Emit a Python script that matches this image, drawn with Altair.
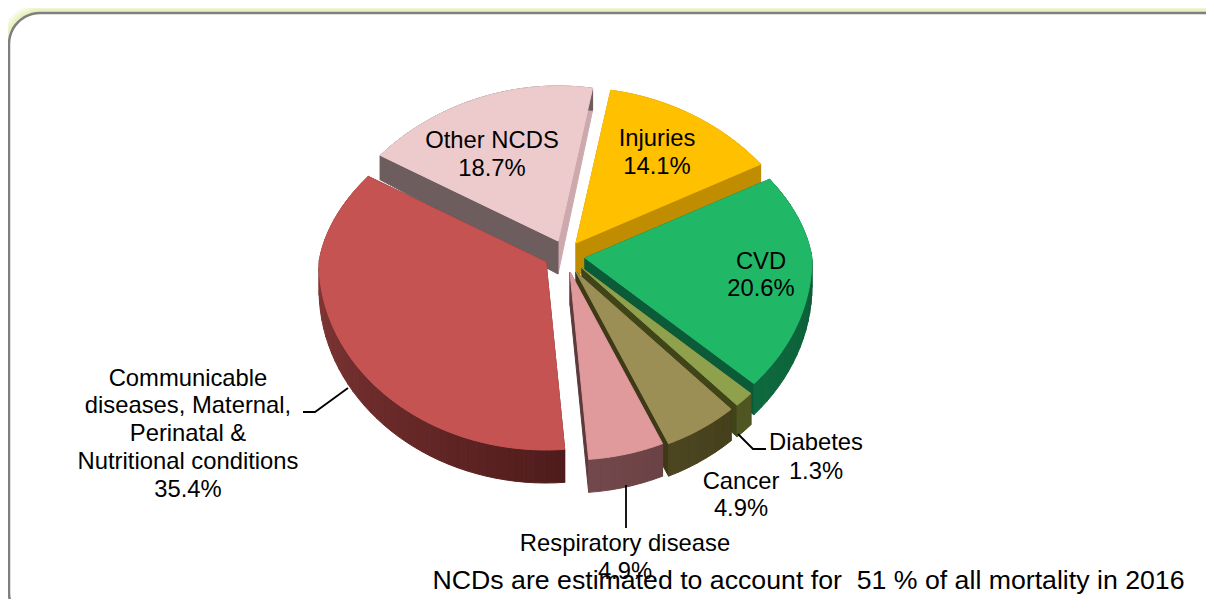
import math
import altair as alt

# ---- data ----
names = ["Injuries", "CVD", "Diabetes", "Cancer", "Respiratory disease",
         "Communicable diseases, Maternal, Perinatal & Nutritional conditions", "Other NCDS"]
shares = [14.1, 20.6, 1.3, 4.9, 4.9, 35.4, 18.7]
pct_labels = ["14.1%", "20.6%", "1.3%", "4.9%", "4.9%", "35.4%", "18.7%"]
footnote = "NCDs are estimated to account for \u00a051 % of all mortality in 2016"

# ---- styling / 3-D pie geometry ----
W, H = 1198, 591
OX, OY = 8, 8
START = 8.7
SKEW = [1.2, 0, -1.7, -1.4, 0, 1.7, 2.5, 1.5]       # foreshortening of the angles
APEX = [(576, 243), (585, 258), (582, 268), (576, 272), (570, 272), (546, 262), (558, 241)]
A, B_BACK, B_FRONT = 227, 155, 188
TOP = ["#ffc000", "#20b866", "#8fa14c", "#9c8f55", "#e09a9b", "#c55352", "#edcbcc"]
RIM_A = ["#c08c00", "#0b5233", "#4f5622", "#453f1c", "#6a4144", "#4f1c1b", "#6d5d5e"]
RIM_B = ["#c08c00", "#0e6a3e", "#4f5622", "#4c4620", "#74494d", "#934140", "#6d5d5e"]
FACE_START = ["#c08c00", "#0b5a38", "#3f4519", "#3e3a18", "#5c3a3c", "#5a2222", "#6d5d5e"]
FACE_END = ["#c08c00", "#0b5a38", "#3f4519", "#3e3a18", "#5c3a3c", "#5a2222", "#cda9ad"]
DRAW_ORDER = [6, 0, 5, 1, 2, 3, 4]
PROJ = dict(type="identity", scale=1, translate=[0, 0])


def pt(x, y):
    return [round(x - OX, 2), round(y - OY, 2)]


def rim(i, deg):
    t = math.radians(deg)
    c = math.cos(t)
    b = B_BACK if c > 0 else B_FRONT
    a = A * (1 - 0.11 * max(c, 0))
    return APEX[i][0] + a * math.sin(t), APEX[i][1] - b * c


def depth(deg):
    return 27.5 - 5.5 * math.cos(math.radians(deg))


def poly(points, color):
    ring = [pt(*p) for p in points]
    ring.append(ring[0])
    return {"type": "Feature", "properties": {"color": color},
            "geometry": {"type": "Polygon", "coordinates": [ring]}}


def mix(c1, c2, f):
    a = [int(c1[k:k + 2], 16) for k in (1, 3, 5)]
    b = [int(c2[k:k + 2], 16) for k in (1, 3, 5)]
    return "#%02x%02x%02x" % tuple(round(u + (v - u) * f) for u, v in zip(a, b))


cum = [START]
for s in shares:
    cum.append(cum[-1] + s * 3.6)
bounds = [c + k for c, k in zip(cum, SKEW)]

features = []
APEX_DEPTH = 33
for i in DRAW_ORDER:
    a0, a1 = bounds[i], bounds[i + 1]
    ax, ay = APEX[i]
    for deg, col in ((a1, FACE_END[i]), (a0, FACE_START[i])):
        x, y = rim(i, deg)
        features.append(poly([(ax, ay), (x, y), (x, y + depth(deg)), (ax, ay + APEX_DEPTH)], col))
    n = max(2, int((a1 - a0) / 2.5))
    for k in range(n):
        d0 = a0 + (a1 - a0) * k / n
        d1 = a0 + (a1 - a0) * (k + 1) / n
        x0, y0 = rim(i, d0)
        x1, y1 = rim(i, d1)
        col = mix(RIM_A[i], RIM_B[i], (k + .5) / n)
        features.append(poly([(x0, y0), (x1, y1), (x1, y1 + depth(d1)), (x0, y0 + depth(d0))], col))
    arc = [rim(i, a0 + (a1 - a0) * k / 60) for k in range(61)]
    features.append(poly([(ax, ay)] + arc, TOP[i]))


# rounded frame
def frame():
    x0, y0, x1, y1, r = 9, 13, 1245, 624, 31
    pts = []
    for cx, cy, st in ((x1 - r, y0 + r, -90), (x1 - r, y1 - r, 0), (x0 + r, y1 - r, 90), (x0 + r, y0 + r, 180)):
        for k in range(13):
            t = math.radians(st + 90 * k / 12)
            pts.append((cx + r * math.cos(t), cy + r * math.sin(t)))
    return pts


frame_feature = poly(frame(), "#ffffff")
glow = [
    alt.Chart(alt.Data(values=[frame_feature])).mark_geoshape(fill="#ffffff", stroke=c, strokeWidth=w, strokeJoin="round").project(**PROJ)
    for c, w in (("#f8fbea", 18), ("#f1f6d6", 13), ("#e9f1bd", 8))
]
border = alt.Chart(alt.Data(values=[frame_feature])).mark_geoshape(
    fill="#ffffff", stroke="#7f7f7f", strokeWidth=2.5).project(**PROJ)

slices = alt.Chart(alt.Data(values=features)).mark_geoshape(strokeWidth=1).encode(
    fill=alt.Fill("properties.color:N", scale=None, legend=None),
    stroke=alt.Stroke("properties.color:N", scale=None, legend=None),
).project(**PROJ)


def leader(points):
    return {"type": "Feature", "properties": {},
            "geometry": {"type": "LineString", "coordinates": [pt(*p) for p in points]}}


leaders = alt.Chart(alt.Data(values=[
    leader([(303, 412), (315, 412), (348, 388)]),
    leader([(738, 434), (753, 449), (766, 449)]),
    leader([(626, 485), (626, 528)]),
])).mark_geoshape(filled=False, stroke="#000000", strokeWidth=1.8).project(**PROJ)

rows = []
LABELS = [
    (["Other NCDS", pct_labels[6]], 492, 140.5, 28),
    (["Injuries", pct_labels[0]], 657, 138.5, 28),
    (["CVD", pct_labels[1]], 761, 261.5, 27),
    (["Communicable", "diseases, Maternal,", "Perinatal &", "Nutritional conditions", pct_labels[5]], 188, 378.5, 27.8),
    (["Diabetes", pct_labels[2]], 816, 442.5, 29),
    (["Cancer", pct_labels[3]], 741, 481.5, 27),
    (["Respiratory disease", pct_labels[4]], 625, 543.5, 28),
]
for lines, x, y, step in LABELS:
    for n, line in enumerate(lines):
        rows.append({"t": line, "x": x - OX, "y": y - OY + n * step})

text = alt.Chart(alt.Data(values=rows)).mark_text(
    font="Liberation Sans", fontSize=23.8, color="#000000", align="center", baseline="middle"
).encode(
    x=alt.X("x:Q", scale=None, axis=None),
    y=alt.Y("y:Q", scale=None, axis=None),
    text="t:N",
)
foot = alt.Chart(alt.Data(values=[{"t": footnote, "x": 808.5 - OX, "y": 581 - OY}])).mark_text(
    font="Liberation Sans", fontSize=26.7, color="#000000", align="center", baseline="middle"
).encode(
    x=alt.X("x:Q", scale=None, axis=None),
    y=alt.Y("y:Q", scale=None, axis=None),
    text="t:N",
)

chart = alt.layer(*glow, border, slices, leaders, text, foot).properties(
    width=W, height=H, padding=0, background="#ffffff",
    autosize=alt.AutoSizeParams(type="none"),
).configure_view(stroke=None)

chart.save("out.html", embed_options={"renderer": "svg", "actions": False})
